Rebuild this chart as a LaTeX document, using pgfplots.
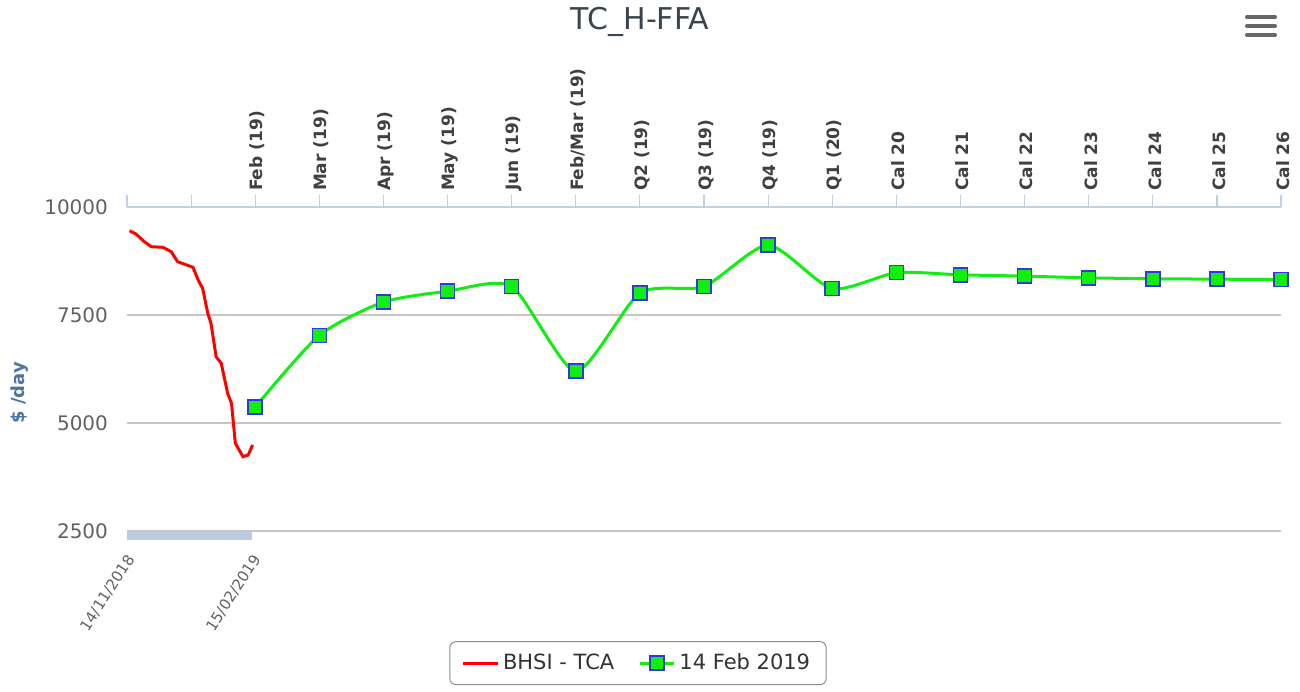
\documentclass[border=0pt]{standalone}
\usepackage{fontspec}
\setmainfont{DejaVu Sans}
\usepackage{pgfplots}
\pgfplotsset{compat=1.18}
\definecolor{cred}{HTML}{FF0000}
\definecolor{cgreen}{HTML}{11EE11}
\definecolor{cmarkb}{HTML}{3636E0}
\definecolor{caxis}{HTML}{C0D0E0}
\definecolor{cnav}{HTML}{BCCCDE}
\definecolor{cgrid}{HTML}{C6C6C6}
\definecolor{ctick}{HTML}{606060}
\definecolor{ctop}{HTML}{404040}
\definecolor{cylab}{HTML}{4D759E}
\definecolor{ctitle}{HTML}{3A4450}
\definecolor{clegtxt}{HTML}{333333}

\begin{document}
\begin{tikzpicture}
\useasboundingbox (-63.5pt,-80pt) rectangle (586.5pt,265.5pt);
\begin{axis}[
  scale only axis, width=577pt, height=162pt,
  xmin=-2, xmax=16, ymin=2500, ymax=10000,
  axis line style={draw=none},
  xtick={-2,...,16},
  xticklabels={{},{},Feb (19),Mar (19),Apr (19),May (19),Jun (19),Feb/Mar (19),Q2 (19),Q3 (19),Q4 (19),Q1 (20),Cal 20,Cal 21,Cal 22,Cal 23,Cal 24,Cal 25,Cal 26},
  xtick pos=upper, xticklabel pos=upper,
  x tick style={caxis, line width=0.6pt},
  tick align=outside, major tick length=6pt,
  xticklabel style={rotate=90, anchor=west, font=\fontsize{8.5}{9}\selectfont\bfseries, text=ctop, xshift=-1.5pt, yshift=-1pt},
  ytick={2500,5000,7500,10000},
  y tick style={draw=none},
  yticklabel style={font=\fontsize{10}{11}\selectfont, text=ctick},
  scaled y ticks=false,
  /pgf/number format/.cd, set thousands separator={}, assume math mode=true, /pgfplots/.cd,
  ymajorgrids, grid style={cgrid, line width=0.6pt},
  clip=false,
  legend columns=2,
  legend style={at={(0.4428,-0.34)}, anchor=north, rounded corners=3pt,
    draw=black!45, line width=0.5pt, font=\fontsize{10.5}{12}\selectfont, text=clegtxt,
    inner xsep=6pt, inner ysep=4pt,
    /tikz/every even column/.append style={column sep=10pt}},
]
\addplot[cred, line width=1.5pt] coordinates {
(-1.96,9451) (-1.86,9375) (-1.73,9197) (-1.62,9081) (-1.44,9067) (-1.31,8965)
(-1.21,8734) (-0.97,8604) (-0.89,8310) (-0.82,8118) (-0.74,7539) (-0.69,7308)
(-0.61,6535) (-0.53,6382) (-0.43,5687) (-0.37,5456) (-0.31,4530) (-0.19,4220)
(-0.11,4259) (-0.04,4491)
};
\addlegendentry{BHSI - TCA}
\addplot[cgreen, line width=1.5pt, smooth, tension=0.4, mark=square*,
  mark size=3.5pt, mark options={fill=cgreen, draw=cmarkb, line width=0.8pt}] coordinates {
(0,5370) (1,7030) (2,7800) (3,8050) (4,8160) (5,6200) (6,8010) (7,8160) (8,9120)
(9,8110) (10,8480) (11,8430) (12,8400) (13,8360) (14,8340) (15,8330) (16,8320)
};
\addlegendentry{14 Feb 2019}
\draw[caxis, line width=0.7pt] (rel axis cs:0,1) -- (rel axis cs:1,1);
\end{axis}
% navigator bar and date labels
\fill[cnav] (0pt,0pt) rectangle (62.5pt,-4.5pt);
\node[rotate=57, anchor=east, font=\fontsize{7.5}{8}\selectfont, text=ctick] at (4pt,-10pt) {14/11/2018};
\node[rotate=57, anchor=east, font=\fontsize{7.5}{8}\selectfont, text=ctick] at (67pt,-10pt) {15/02/2019};
% y label
\node[rotate=90, font=\fontsize{9}{10}\selectfont\bfseries, text=cylab] at (-53.5pt,69pt) {\$ /day};
% title
\node[font=\fontsize{15}{16}\selectfont, text=ctitle] at (256.5pt,254.5pt) {TC\_H-FFA};
% menu icon
\foreach \yy in {257,252.5,248}
  \draw[black!60, line width=2pt, line cap=round] (560pt,\yy pt) -- (574pt,\yy pt);
\end{tikzpicture}
\end{document}
